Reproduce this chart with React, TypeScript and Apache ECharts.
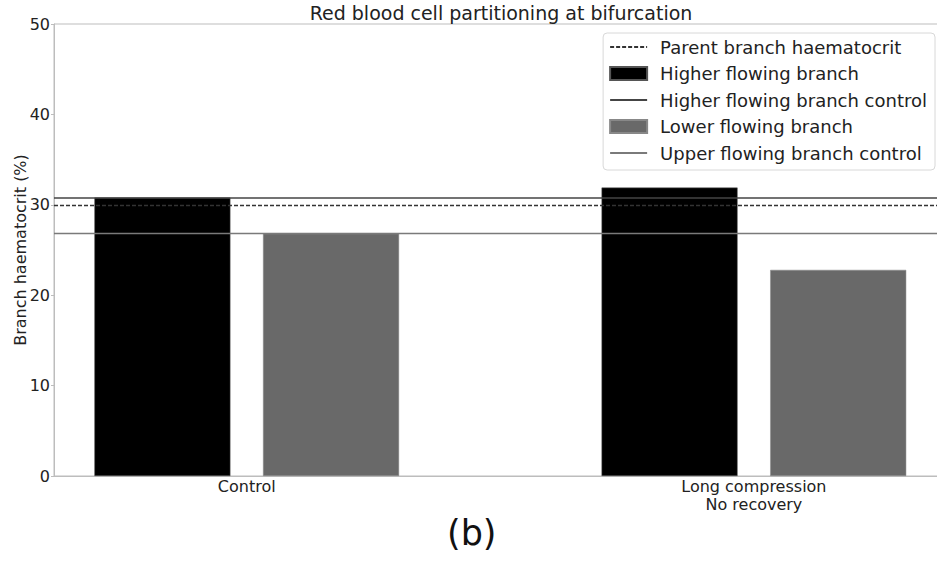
import React, { useEffect, useRef } from "react";
import * as echarts from "echarts";

const categories = ["Control", "Long compression\nNo recovery"];
const categoryPositions = [0, 1];
const higherFlowing = [30.8, 31.9];
const lowerFlowing = [26.8, 22.8];
const parentHaematocrit = 30.0;
const higherControl = 30.8;
const upperControl = 26.8;
const yTicks = [0, 10, 20, 30, 40, 50];

const FONT = "DejaVu Sans";

export default function App() {
  const ref = useRef<HTMLDivElement>(null);
  useEffect(() => {
    if (!ref.current) return;
    const chart = echarts.init(ref.current, undefined, { renderer: "svg" });
    const catLabel = (v: number) => {
      for (let i = 0; i < categoryPositions.length; i++) {
        if (Math.abs(v - categoryPositions[i]) < 1e-6) return categories[i];
      }
      return "";
    };
    const hiddenSymbol = { opacity: 0, borderWidth: 0 };
    chart.setOption({
      animation: false,
      textStyle: { fontFamily: FONT, color: "#222" },
      title: {
        text: "Red blood cell partitioning at bifurcation",
        left: 496,
        top: -2,
        textAlign: "center",
        textStyle: { fontFamily: FONT, fontSize: 19, fontWeight: "normal", color: "#222" },
      },
      grid: {
        left: 54,
        top: 24,
        right: -2,
        bottom: 85,
        show: true,
        borderColor: "#bdbdbd",
        borderWidth: 1,
        containLabel: false,
        outerBoundsMode: "none",
      },
      legend: {
        orient: "vertical",
        right: 2,
        top: 33,
        itemWidth: 37,
        itemHeight: 13,
        itemGap: 8.5,
        padding: [5, 8, 8, 6],
        borderColor: "#d8d8d8",
        borderWidth: 1,
        borderRadius: 4,
        backgroundColor: "#fff",
        textStyle: { fontFamily: FONT, fontSize: 18, color: "#222", padding: [0, 0, 0, 8] },
        data: [
          { name: "Parent branch haematocrit", itemStyle: hiddenSymbol },
          { name: "Higher flowing branch", icon: "rect" },
          { name: "Higher flowing branch control", itemStyle: hiddenSymbol },
          { name: "Lower flowing branch", icon: "rect" },
          { name: "Upper flowing branch control", itemStyle: hiddenSymbol },
        ],
      },
      xAxis: {
        type: "value",
        min: -0.38,
        max: 1.365,
        splitLine: { show: false },
        axisTick: { show: false },
        axisLine: { show: true, onZero: false, lineStyle: { color: "#bdbdbd" } },
        axisLabel: {
          customValues: categoryPositions,
          formatter: catLabel,
          fontFamily: FONT,
          fontSize: 16,
          lineHeight: 18,
          color: "#222",
          margin: 1,
        },
      },
      yAxis: {
        type: "value",
        min: 0,
        max: 50,
        interval: 10,
        name: "Branch haematocrit (%)",
        nameLocation: "middle",
        nameGap: 26,
        nameMoveOverlap: false,
        nameTextStyle: { fontFamily: FONT, fontSize: 16, color: "#222" },
        splitLine: { show: false },
        axisLine: { show: true, onZero: false, lineStyle: { color: "#bdbdbd" } },
        axisTick: { show: true, length: 3, lineStyle: { color: "#bdbdbd" } },
        axisLabel: {
          fontFamily: FONT,
          fontSize: 16,
          color: "#222",
          margin: 4,
          formatter: (v: number) => (yTicks.includes(v) ? String(v) : ""),
        },
      },
      series: [
        {
          name: "Parent branch haematocrit",
          type: "line",
          data: [],
          symbol: "none",
          z: 1,
          lineStyle: { color: "#333", width: 1.3, type: [4, 2] },
          itemStyle: { color: "#333" },
          markLine: {
            silent: true,
            symbol: "none",
            label: { show: false },
            lineStyle: { color: "#333", width: 1.3, type: [4, 2] },
            data: [{ yAxis: parentHaematocrit }],
          },
        },
        {
          name: "Higher flowing branch",
          type: "bar",
          z: 2,
          barWidth: 136,
          barGap: "24%",
          itemStyle: { color: "#000", borderColor: "#555", borderWidth: 0.5 },
          data: higherFlowing.map((v, i) => [categoryPositions[i], v]),
        },
        {
          name: "Higher flowing branch control",
          type: "line",
          data: [],
          symbol: "none",
          z: 3,
          lineStyle: { color: "#444", width: 1.5 },
          itemStyle: { color: "#444" },
          markLine: {
            silent: true,
            symbol: "none",
            label: { show: false },
            lineStyle: { color: "#444", width: 1.5, type: "solid" },
            data: [{ yAxis: higherControl }],
          },
        },
        {
          name: "Lower flowing branch",
          type: "bar",
          z: 2,
          barWidth: 136,
          barGap: "24%",
          itemStyle: { color: "#696969", borderColor: "#888", borderWidth: 0.5 },
          data: lowerFlowing.map((v, i) => [categoryPositions[i], v]),
        },
        {
          name: "Upper flowing branch control",
          type: "line",
          data: [],
          symbol: "none",
          z: 3,
          lineStyle: { color: "#7a7a7a", width: 1.3 },
          itemStyle: { color: "#7a7a7a" },
          markLine: {
            silent: true,
            symbol: "none",
            label: { show: false },
            lineStyle: { color: "#7a7a7a", width: 1.3, type: "solid" },
            data: [{ yAxis: upperControl }],
          },
        },
      ],
      graphic: [
        {
          type: "text",
          left: 447,
          top: 515,
          style: { text: "(b)", fontFamily: FONT, fontSize: 35, fill: "#111" },
        },
      ],
    });
    return () => chart.dispose();
  }, []);
  return (
    <div
      ref={ref}
      style={{ position: "fixed", left: 0, top: 0, width: 937, height: 561, background: "#fff" }}
    />
  );
}
